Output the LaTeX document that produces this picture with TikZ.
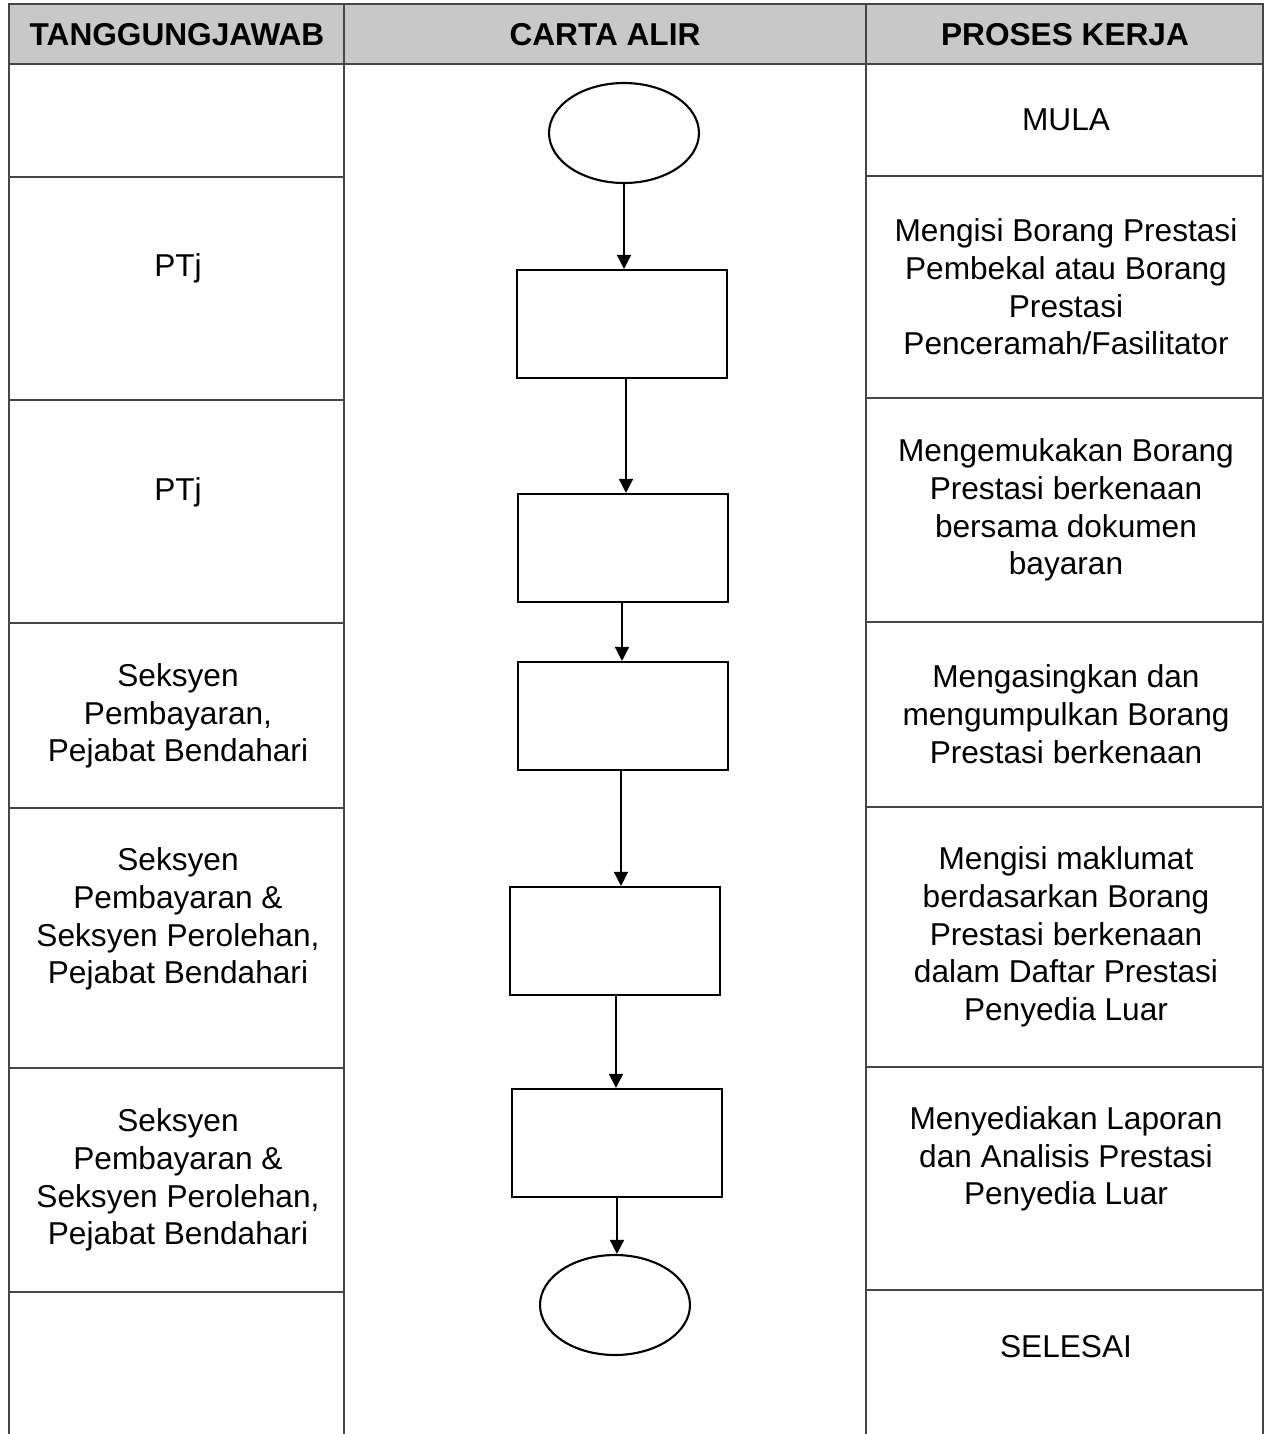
\documentclass[tikz,border=0pt]{standalone}
\usepackage{fontspec}
\setmainfont{Liberation Sans}
\usepackage{tikz}
\usetikzlibrary{arrows.meta, shapes.geometric}

\definecolor{headgray}{RGB}{200,200,200}
\definecolor{rulegray}{RGB}{70,70,70}

\tikzset{
  cell/.style={align=center, font=\fontsize{18}{21.5}\selectfont},
  head/.style={font=\fontsize{18}{21.5}\selectfont\bfseries},
  stepbox/.style={draw, line width=1.2pt, minimum width=4.2cm, minimum height=2.16cm},
  terminal/.style={draw, ellipse, line width=1.2pt, minimum width=3cm, minimum height=2cm},
  >={Triangle[length=0.28cm, width=0.28cm]}
}

\begin{document}
\begin{tikzpicture}[x=0.02cm, y=-0.02cm]
\useasboundingbox (0,0) rectangle (1266,1434);
\coordinate (tl) at (9,4);
\coordinate (tr) at (1263,4);
\coordinate (bl) at (9,1434);
\coordinate (br) at (1263,1434);
 % header
 \filldraw[fill=headgray, draw=rulegray, line width=1pt] (tl) rectangle (1263,64);
 \draw[rulegray, line width=1pt] (tl) -- (bl);
 \draw[rulegray, line width=1pt] (tr) -- (br);
 \draw[rulegray, line width=1pt] (344,4) -- (344,1434);
 \draw[rulegray, line width=1pt] (866,4) -- (866,1434);
 \draw[rulegray, line width=1.4pt] (tl) -- (tr);
 \draw[rulegray, line width=1.4pt] (9,64) -- (1263,64);
 \node[head] (h1) at (177,35) {TANGGUNGJAWAB};
 \node[head] (h2) at (605,35) {CARTA ALIR};
 \node[head] (h3) at (1065,35) {PROSES KERJA};
 % row lines
 \foreach \ya/\yb in {177/176, 400/398, 623/622, 808/807, 1068/1067, 1292/1290}{
   \draw[rulegray, line width=1pt] (9,\ya) -- (344,\ya);
   \draw[rulegray, line width=1pt] (866,\yb) -- (1263,\yb);
 }
 % tanggungjawab
 \node[cell] (t1) at (178,268) {PTj};
 \node[cell] (t2) at (178,492) {PTj};
 \node[cell] (t3) at (178,716) {Seksyen\\Pembayaran,\\Pejabat Bendahari};
 \node[cell] (t4) at (178,919) {Seksyen\\Pembayaran \&\\Seksyen Perolehan,\\Pejabat Bendahari};
 \node[cell] (t5) at (178,1180) {Seksyen\\Pembayaran \&\\Seksyen Perolehan,\\Pejabat Bendahari};
 % proses kerja
 \node[cell] (p0) at (1066,120) {MULA};
 \node[cell] (p1) at (1066,287) {Mengisi Borang Prestasi\\Pembekal atau Borang\\Prestasi\\Penceramah/Fasilitator};
 \node[cell] (p2) at (1066,510) {Mengemukakan Borang\\Prestasi berkenaan\\bersama dokumen\\bayaran};
 \node[cell] (p3) at (1066,714) {Mengasingkan dan\\mengumpulkan Borang\\Prestasi berkenaan};
 \node[cell] (p4) at (1066,937) {Mengisi maklumat\\berdasarkan Borang\\Prestasi berkenaan\\dalam Daftar Prestasi\\Penyedia Luar};
 \node[cell] (p5) at (1066,1159) {Menyediakan Laporan\\dan Analisis Prestasi\\Penyedia Luar};
 \node[cell] (p6) at (1066,1347) {SELESAI};
 % carta alir
 \node[terminal] (mula) at (624,133) {};
 \node[stepbox] (b1) at (622,324) {};
 \node[stepbox] (b2) at (623,548) {};
 \node[stepbox] (b3) at (623,716) {};
 \node[stepbox] (b4) at (615,941) {};
 \node[stepbox] (b5) at (617,1143) {};
 \node[terminal] (tamat) at (615,1305) {};
 \draw[->, line width=0.8pt] (mula.south) -- (mula.south |- b1.north);
 \draw[->, line width=0.8pt] (626,378) coordinate (c1) -- (c1 |- b2.north);
 \draw[->, line width=0.8pt] (b2.south -| 622,0) coordinate (c2) -- (c2 |- b3.north);
 \draw[->, line width=0.8pt] (b3.south -| 621,0) coordinate (c3) -- (c3 |- b4.north);
 \draw[->, line width=0.8pt] (b4.south -| 616,0) coordinate (c4) -- (c4 |- b5.north);
 \draw[->, line width=0.8pt] (b5.south -| 617,0) coordinate (c5) -- (c5 |- tamat.north);
\end{tikzpicture}
\end{document}
